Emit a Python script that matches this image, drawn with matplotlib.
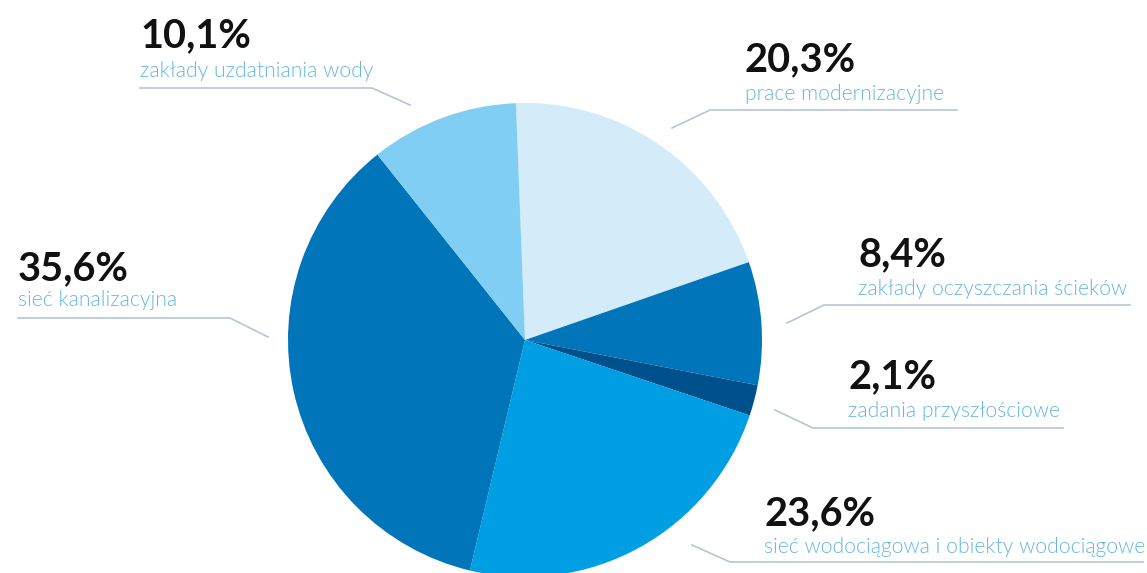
import matplotlib
matplotlib.use("Agg")
import matplotlib.pyplot as plt

# ── DATA ─────────────────────────────────────────────────────────────────────
categories = [
    "prace modernizacyjne",
    "zakłady oczyszczania ścieków",
    "zadania przyszłościowe",
    "sieć wodociągowa i obiekty wodociągowe",
    "sieć kanalizacyjna",
    "zakłady uzdatniania wody",
]
shares = [20.3, 8.4, 2.1, 23.6, 35.6, 10.1]
pct_labels = ["20,3%", "8,4%", "2,1%", "23,6%", "35,6%", "10,1%"]

# ── STYLE ────────────────────────────────────────────────────────────────────
SLICE_COLORS = ["#d4ebfa", "#0075b9", "#00508e", "#009fe3", "#0075b9", "#80cef4"]
LABEL_BLUE = "#66b6e0"
LINE_GRAY = "#b4c6d4"
W, H = 1147, 573

# label block: text x, pct baseline y, label baseline y, leader polyline (pixel coords)
layout = [
    (745, 71, 100, [(672, 128), (710, 110), (957, 110)]),
    (858, 266, 295, [(787, 323), (824, 305), (1130, 305)]),
    (848, 388, 417, [(775, 410), (813, 428), (1063, 428)]),
    (764, 525, 553, [(692, 545), (730, 562), (1143, 562)]),
    (18, 280, 306, [(18, 318), (230, 318), (268, 337)]),
    (140, 47, 77, [(140, 88), (372, 88), (410, 105)]),
]

fig = plt.figure(figsize=(W / 100, H / 100), dpi=100, facecolor="white")
ax = fig.add_axes([0, 0, 1, 1])

ax.pie(shares, colors=SLICE_COLORS, startangle=92.2, counterclock=False,
       center=(525, H - 340), radius=237, frame=True,
       wedgeprops=dict(linewidth=0))
ax.set_xlim(0, W)
ax.set_ylim(0, H)
ax.set_aspect("equal")
ax.axis("off")

for cat, pct, (x, yb, yl, pts) in zip(categories, pct_labels, layout):
    ax.text(x, H - yb, pct, fontsize=28.6, fontweight="bold", family="Lato",
            color="#111111", ha="left", va="baseline")
    ax.text(x, H - yl, cat, fontsize=15.2, fontweight=300, family="Lato",
            color=LABEL_BLUE, ha="left", va="baseline")
    xs = [p[0] for p in pts]
    ys = [H - p[1] for p in pts]
    ax.plot(xs, ys, color=LINE_GRAY, linewidth=1.2)

plt.savefig("out.png", dpi=100, facecolor="white")
